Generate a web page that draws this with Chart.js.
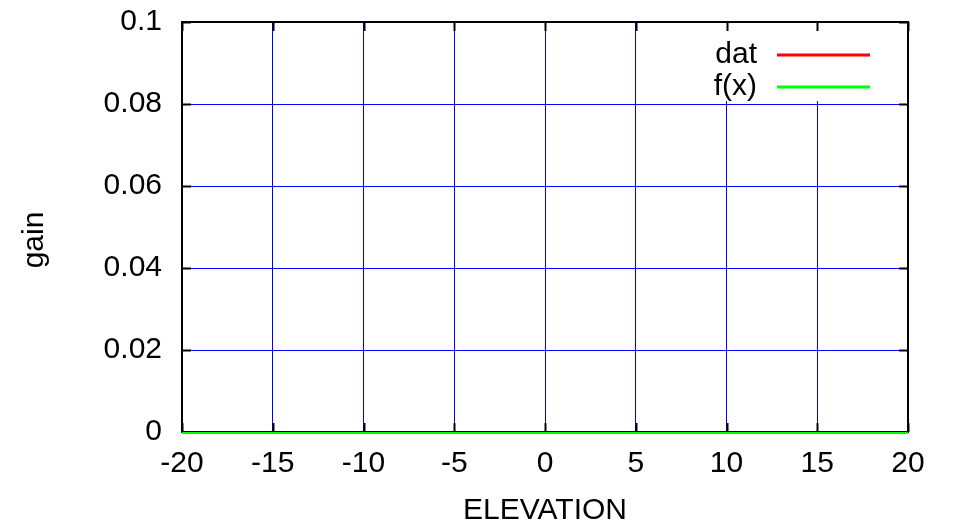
<!DOCTYPE html>
<html>
<head>
<meta charset="utf-8">
<script src="https://cdn.jsdelivr.net/npm/chart.js@4/dist/chart.umd.min.js"></script>
<style>
  html, body { margin: 0; padding: 0; background: #fff; }
  #wrap { width: 957px; height: 530px; }
</style>
</head>
<body>
<div id="wrap"><canvas id="chart" width="957" height="530"></canvas></div>
<script>
// dados
const elevation = [-20, -15, -10, -5, 0, 5, 10, 15, 20];
const datValues = [0, 0, 0, 0, 0, 0, 0, 0, 0];
const fxValues = [0, 0, 0, 0, 0, 0, 0, 0, 0];
const seriesNames = ['dat', 'f(x)'];
const xTickValues = [-20, -15, -10, -5, 0, 5, 10, 15, 20];
const xTickLabels = ['-20', '-15', '-10', '-5', '0', '5', '10', '15', '20'];
const yTickValues = [0, 0.02, 0.04, 0.06, 0.08, 0.1];
const yTickLabels = ['0', '0.02', '0.04', '0.06', '0.08', '0.1'];
const xTitle = 'ELEVATION';
const yTitle = 'gain';

(function () {
    const FONT = 'Liberation Sans, Arial, sans-serif';
    const FSIZE = 30;
    const colors = ['#ff0000', '#00ff00'];

    function pts(vals) {
        return elevation.map(function (x, i) { return { x: x, y: vals[i] }; });
    }

    // moldura, marcas, legenda e títulos (estilo gnuplot)
    const gnuplotFrame = {
        id: 'gnuplotFrame',
        beforeDatasetsDraw(chart) {
            const ctx = chart.ctx;
            const a = chart.chartArea;
            // caixa da legenda apaga a grade por baixo
            ctx.save();
            ctx.fillStyle = '#fff';
            ctx.fillRect(690, a.top + 1, a.right - 690 - 4, 78);
            ctx.restore();
        },
        afterDatasetsDraw(chart) {
            const ctx = chart.ctx;
            const a = chart.chartArea;
            const xs = chart.scales.x, ys = chart.scales.y;
            const tl = 9;
            ctx.save();
            ctx.strokeStyle = '#000';
            ctx.lineWidth = 2;
            ctx.beginPath();
            xTickValues.forEach(function (v) {
                const px = Math.round(xs.getPixelForValue(v)) + 0.5;
                ctx.moveTo(px, a.bottom); ctx.lineTo(px, a.bottom - tl);
                ctx.moveTo(px, a.top); ctx.lineTo(px, a.top + tl);
            });
            yTickValues.forEach(function (v) {
                const py = Math.round(ys.getPixelForValue(v)) + 0.5;
                ctx.moveTo(a.left, py); ctx.lineTo(a.left + tl, py);
                ctx.moveTo(a.right, py); ctx.lineTo(a.right - tl, py);
            });
            ctx.stroke();
            ctx.strokeRect(a.left, a.top, a.right - a.left, a.bottom - a.top);

            // linhas de dados por cima da moldura
            ctx.lineWidth = 2;
            chart.data.datasets.forEach(function (ds, i) {
                const meta = chart.getDatasetMeta(i);
                ctx.strokeStyle = ds.borderColor;
                ctx.beginPath();
                meta.data.forEach(function (p, j) {
                    if (j === 0) ctx.moveTo(p.x, p.y + 1); else ctx.lineTo(p.x, p.y + 1);
                });
                ctx.stroke();
            });

            // legenda
            ctx.font = FSIZE + 'px ' + FONT;
            ctx.fillStyle = '#000';
            ctx.textAlign = 'right';
            ctx.textBaseline = 'middle';
            ctx.lineWidth = 3;
            seriesNames.forEach(function (name, i) {
                const y = 55 + i * 32;
                ctx.fillText(name, 757, y);
                ctx.strokeStyle = colors[i];
                ctx.beginPath();
                ctx.moveTo(777, y); ctx.lineTo(870, y);
                ctx.stroke();
            });

            // títulos dos eixos
            ctx.textAlign = 'center';
            ctx.fillText(xTitle, (a.left + a.right) / 2, 511);
            ctx.translate(35, 240);
            ctx.rotate(-Math.PI / 2);
            ctx.fillText(yTitle, 0, 0);
            ctx.restore();
        }
    };

    const ctx = document.getElementById('chart').getContext('2d');
    window._chart = new Chart(ctx, {
        type: 'line',
        data: {
            datasets: [
                { label: seriesNames[0], data: pts(datValues), borderColor: colors[0], borderWidth: 2, pointRadius: 0 },
                { label: seriesNames[1], data: pts(fxValues), borderColor: colors[1], borderWidth: 2, pointRadius: 0 }
            ]
        },
        options: {
            responsive: false,
            animation: false,
            events: [],
            layout: { padding: { top: 22, right: 49, left: 0, bottom: 0 } },
            plugins: { legend: { display: false }, tooltip: { enabled: false } },
            scales: {
                x: {
                    type: 'linear',
                    min: -20, max: 20,
                    afterBuildTicks: function (s) { s.ticks = xTickValues.map(function (v) { return { value: v }; }); },
                    afterFit: function (s) { s.height = 98; s.paddingLeft = 0; s.paddingRight = 0; },
                    ticks: {
                        color: '#000', padding: 14, maxRotation: 0, autoSkip: false,
                        font: { family: FONT, size: FSIZE },
                        callback: function (v, i) { return xTickLabels[i]; }
                    },
                    grid: { color: '#0000ff', lineWidth: 1, drawTicks: false },
                    border: { display: false }
                },
                y: {
                    type: 'linear',
                    min: 0, max: 0.1,
                    afterBuildTicks: function (s) { s.ticks = yTickValues.map(function (v) { return { value: v }; }); },
                    afterFit: function (s) { s.width = 182; s.paddingTop = 0; s.paddingBottom = 0; },
                    ticks: {
                        color: '#000', padding: 20, autoSkip: false,
                        font: { family: FONT, size: FSIZE },
                        callback: function (v, i) { return yTickLabels[i]; }
                    },
                    grid: { color: '#0000ff', lineWidth: 1, drawTicks: false },
                    border: { display: false }
                }
            }
        },
        plugins: [gnuplotFrame]
    });
})();
</script>
</body>
</html>
